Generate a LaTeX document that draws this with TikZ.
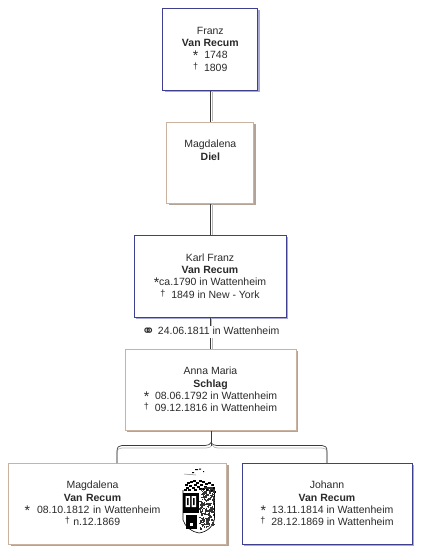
\documentclass[tikz,border=0pt]{standalone}
\usepackage{fontspec}
\setmainfont{Liberation Sans}
\newfontfamily\symfont{DejaVu Sans}
\usetikzlibrary{shadows,positioning}
\definecolor{bluebd}{HTML}{3F3F8F}
\definecolor{blueshd}{HTML}{A8A8D8}
\definecolor{tanbd}{HTML}{C9B2A0}
\definecolor{tanshd}{HTML}{B3A296}
\definecolor{txtc}{HTML}{2A2A2A}
\definecolor{lnc}{HTML}{3A3A3A}
\definecolor{lnl}{HTML}{B8B8B8}
\newcommand{\stb}{\raisebox{-.3ex}{\fontsize{14}{14}\selectfont *}}
\newcommand{\dgr}{\raisebox{.35ex}{\fontsize{9}{9}\selectfont †}}
\tikzset{
  x=1pt,y=-1pt,
  person/.style={draw,fill=white,line width=1pt,align=center,text=txtc,inner sep=0pt,
    font=\fontsize{10.5}{12.3}\selectfont},
  blueperson/.style={person,draw=bluebd,general shadow={shadow xshift=2.3pt,shadow yshift=-2.3pt,fill=blueshd}},
  tanperson/.style={person,draw=tanbd,general shadow={shadow xshift=2.3pt,shadow yshift=-2.3pt,fill=tanshd}},
  conn/.style={draw=lnc,line width=.8pt},
  connl/.style={draw=lnl,line width=.7pt},
  mlabel/.style={text=txtc,inner sep=1pt,font=\fontsize{10.5}{12.3}\selectfont},
}
\begin{document}
\begin{tikzpicture}
\useasboundingbox (0,0) rectangle (428,560);
\fill[white] (0,0) rectangle (428,560);

% positions
\coordinate (pf) at (210.3,49);
\coordinate (pd) at (210.3,162.5);
\coordinate (pk) at (210,276);
\coordinate (pa) at (210.5,389.5);
\coordinate (pm) at (117.5,503.5);
\coordinate (pj) at (327,503.5);

\coordinate (bus) at (211,446);
\coordinate (busL) at (117,463);
\coordinate (busR) at (327,463);

\node[blueperson,minimum width=95pt,minimum height=82pt] (franz) at (pf)
  {Franz\\ \textbf{Van Recum}\\ \stb\ \ 1748\\ \dgr\ \ 1809};
\node[tanperson,minimum width=87pt,minimum height=81pt] (diel) at (pd)
  {Magdalena\\ \textbf{Diel}\\ ~\\ ~};
\node[blueperson,minimum width=152pt,minimum height=82pt] (karl) at (pk)
  {Karl Franz\\ \textbf{Van Recum}\\ \stb ca.1790 in Wattenheim\\ \dgr\ \ 1849 in New - York};
\node[tanperson,minimum width=171pt,minimum height=81pt] (anna) at (pa)
  {Anna Maria\\ \textbf{Schlag}\\ \stb\ \ 08.06.1792 in Wattenheim\\ \dgr\ \ 09.12.1816 in Wattenheim};
\node[tanperson,minimum width=218pt,minimum height=81pt,text width=218pt,align=left] (magd) at (pm)
  {\hspace*{0pt}\makebox[168pt][c]{Magdalena}\\
   \makebox[168pt][c]{\textbf{Van Recum}}\\
   \makebox[168pt][c]{\stb\ \ 08.10.1812 in Wattenheim}\\
   \makebox[168pt][c]{\dgr\ n.12.1869}};
\node[blueperson,minimum width=170pt,minimum height=81pt] (joh) at (pj)
  {Johann\\ \textbf{Van Recum}\\ \stb\ \ 13.11.1814 in Wattenheim\\ \dgr\ \ 28.12.1869 in Wattenheim};

\node[mlabel,fill=white] (marr) at (210.5,332)
  {{\symfont\fontsize{16}{12}\selectfont\raisebox{-.25ex}{⚭}}\ 24.06.1811 in Wattenheim};

% vertical connectors
\draw[connl] ([xshift=1.6pt,yshift=-.5pt]franz.south) -- ([xshift=1.6pt,yshift=.5pt]franz.south |- diel.north);
\draw[conn] (franz.south) -- (franz.south |- diel.north);
\draw[connl] ([xshift=1.6pt]diel.south) -- ([xshift=1.6pt]diel.south |- karl.north);
\draw[conn] (diel.south) -- (diel.south |- karl.north);
\draw[connl] ([xshift=1.6pt]karl.south) -- ([xshift=1.6pt]karl.south |- marr.north);
\draw[conn] (karl.south) -- (karl.south |- marr.north);
\draw[connl] ([xshift=1.6pt]marr.south) -- ([xshift=1.6pt]marr.south |- anna.north);
\draw[conn] (marr.south) -- (marr.south |- anna.north);

% bracket to the children
\draw[connl] (busL) -- (117,453) .. controls (117,449) and (119,448) .. (122,448)
  -- (206,448) .. controls (209,448) and (211,447) .. (212,445)
  .. controls (213,447) and (215,448) .. (218,448) -- (322,448)
  .. controls (325,448) and (327,449) .. (327,453) -- (busR);
\draw[conn] (anna.south -| bus) -- (bus);
\draw[conn,line width=.7pt] (busL) -- (117,451) .. controls (117,447) and (119,445.5) .. (122,445.5)
  -- (205,445.5) .. controls (208,445.5) and (210,444.5) .. (211,442.5)
  .. controls (212,444.5) and (214,445.5) .. (217,445.5) -- (322,445.5)
  .. controls (325,445.5) and (327,447) .. (327,451) -- (busR);

% coat of arms
\begin{scope}[black]
  \draw[line width=.5pt,gray] (184,474) -- (196,475);
  \fill (195,469) rectangle (198,470) (199,468.5) rectangle (201,469.5) (203,471) rectangle (204,472) (192,472) rectangle (194,473);
  % crown
  \foreach \x/\y in {187/482,190/481,193/480,196/482,199/480,202/481,205/483,208/482,211/484,185/484,189/485,194/484,200/484,204/486,209/487,212/487,186/487,197/486,192/487,202/488,206/489,210/490,184/489,213/491,199/488,188/489,194/489}
    \fill (\x,\y) rectangle +(2.6,2);
  % shield outline
  \draw[line width=.6pt] (183,490) -- (183,520) .. controls (185,527) and (192,532) .. (199,533) .. controls (207,532) and (214,526) .. (214.5,518) -- (214.5,490);
  % left panel
  \fill (182.5,493) rectangle (199,513);
  \fill[white] (185.5,496) rectangle (190,507) (191.5,496) rectangle (196,507);
  \fill (187,498) rectangle (188.5,505) (193,498) rectangle (194.5,505);
  % lower left
  \fill (186,515) rectangle (197,529);
  \fill[white] (190,523) rectangle (193,526);
  % speckled right side
  \pgfmathsetseed{4217}
  \foreach \i in {1,...,260}{
    \pgfmathsetmacro{\px}{199+rnd*15}
    \pgfmathsetmacro{\py}{488+rnd*41-(\px-199)*.3}
    \fill[black!80] (\px,\py) rectangle +(1.4,1.4);
  }
\end{scope}
\end{tikzpicture}
\end{document}
